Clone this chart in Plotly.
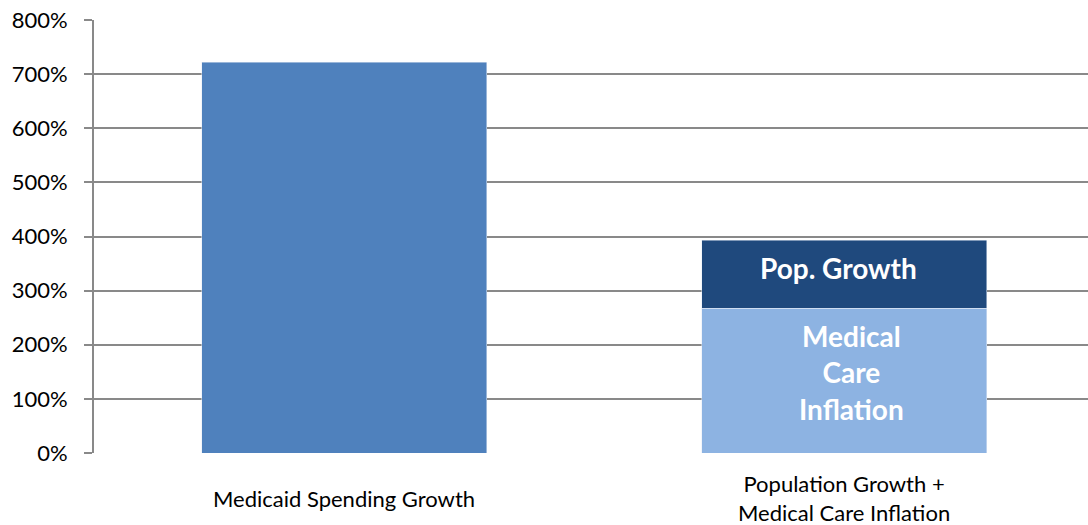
import plotly.graph_objects as go

# Growth figures, in percent
categories = ["Medicaid Spending Growth", "Population Growth +<br>Medical Care Inflation"]
spending_growth = [722, None]
medical_inflation = [None, 267]
population_growth = [None, 126]
segment_labels = ["Medical<br>Care<br>Inflation", "Pop. Growth"]
y_ticks = [0, 100, 200, 300, 400, 500, 600, 700, 800]
y_tick_labels = [f"{v}%" for v in y_ticks]

FONT = "Lato"
GRID = "#898989"
BAR_W = 0.57

fig = go.Figure()
fig.add_trace(go.Bar(
    x=categories, y=spending_growth, marker_color="#4F81BD",
    width=BAR_W, hoverinfo="skip",
))
fig.add_trace(go.Bar(
    x=categories, y=medical_inflation, marker_color="#8DB3E2",
    width=BAR_W, hoverinfo="skip",
))
fig.add_trace(go.Bar(
    x=categories, y=population_growth, marker_color="#1F497D",
    width=BAR_W, hoverinfo="skip",
))

# Segment labels, placed at the middle of each stacked segment
seg_mid_inflation = medical_inflation[1] / 2
seg_mid_pop = medical_inflation[1] + population_growth[1] / 2
for text, ymid, dx, dy in [
    (segment_labels[0], seg_mid_inflation, 7, 8),
    (segment_labels[1], seg_mid_pop, -6, 6),
]:
    fig.add_annotation(
        x=categories[1], y=ymid, xref="x", yref="y", text=f"<b>{text}</b>",
        showarrow=False, xanchor="center", yanchor="middle",
        xshift=dx, yshift=dy, align="center",
        font=dict(family=FONT, size=28, color="white"),
    )

# Category labels drawn below the plot, vertically centred
for cat in categories:
    fig.add_annotation(
        x=cat, y=-0.105, xref="x", yref="paper", text=cat,
        showarrow=False, yanchor="middle", xanchor="center",
        font=dict(family=FONT, size=22, color="#000000"),
    )

fig.update_layout(
    width=1088, height=525,
    barmode="stack", showlegend=False,
    plot_bgcolor="white", paper_bgcolor="white",
    margin=dict(l=94, r=0, t=20, b=72),
)
fig.update_xaxes(
    range=[-0.5, 1.488], showticklabels=False, showgrid=False,
    showline=False, zeroline=False, ticks="",
)
fig.update_yaxes(
    range=[0, 800], tickvals=y_ticks, ticktext=y_tick_labels,
    showgrid=True, gridcolor=GRID, gridwidth=2,
    showline=True, linecolor=GRID, linewidth=2,
    ticks="outside", ticklen=8, tickcolor=GRID, tickwidth=2,
    tickfont=dict(family=FONT, size=22, color="#000000"),
    ticklabelstandoff=12, zeroline=False,
)

fig.write_html("out.html")
